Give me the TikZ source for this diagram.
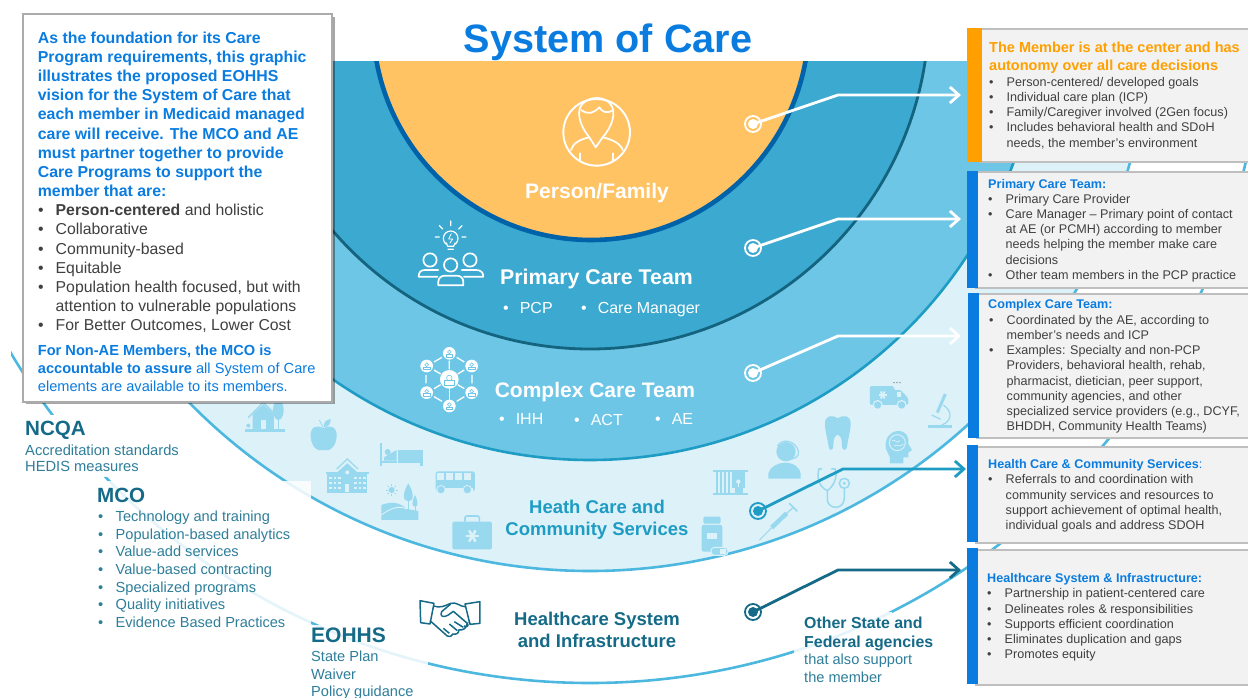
\documentclass[tikz,border=0pt]{standalone}
\usepackage{fontspec}
\setmainfont{Liberation Sans}
\usetikzlibrary{arrows.meta,shadows}
\definecolor{sysblue}{HTML}{0A7CE0}
\definecolor{ringO}{HTML}{FFC364}
\definecolor{edgeO}{HTML}{0062A8}
\definecolor{ringP}{HTML}{3BA9D0}
\definecolor{edgeP}{HTML}{14637F}
\definecolor{ringC}{HTML}{6EC6E6}
\definecolor{edgeC}{HTML}{1E9CC4}
\definecolor{ringL}{HTML}{DCF1F8}
\definecolor{edgeL}{HTML}{4DB8DF}
\definecolor{teal}{HTML}{156A87}
\definecolor{tealtxt}{HTML}{2E7E9A}
\definecolor{ic}{HTML}{99D9F0}
\definecolor{txt}{HTML}{404040}
\definecolor{orng}{HTML}{FFA000}
\newlength\bw \setlength\bw{17.5pt}
\newcommand\bu[1]{\makebox[\bw][l]{\textbullet}#1}
\newcommand\cn[1]{\hspace*{\bw}#1}
\newcommand\fs[2]{\fontsize{#1}{#2}\selectfont}
\tikzset{
 lbl/.style={inner sep=0pt,anchor=north west,align=left},
 ctr/.style={inner sep=0pt,align=center},
 barbox/.style={inner sep=0pt,anchor=north west,fill=sysblue},
 greybox/.style={inner sep=0pt,anchor=north west,draw=black!25,line width=2pt,fill=black!5},
 ring/.style={circle,inner sep=0pt,minimum size=16pt,line width=1.8pt,draw=#1},
 conn/.style={line width=2.8pt,draw=#1,line join=miter,-{Straight Barb[length=9pt,width=16pt,line width=2.8pt]}},
 icl/.style={draw=white,line width=1.7pt,line cap=round,line join=round,fill=none},
 icd/.style={draw=teal,line width=1.5pt,line join=round,fill=none},
}
\begin{document}
\begin{tikzpicture}[x=1pt,y=-1pt]
\useasboundingbox (0,0) rectangle (1248,698);
% concentric rings
\begin{scope}
\clip (11,62) rectangle (1248,698);
\draw[edgeL,line width=2.6pt] (590,10) circle[radius=673pt];
\draw[edgeL,line width=2.6pt,fill=ringL] (590,10) circle[radius=561pt];
\draw[edgeC,line width=2.6pt,fill=ringC] (590,10) circle[radius=450pt];
\draw[edgeP,line width=2.8pt,fill=ringP] (590,10) circle[radius=339pt];
\draw[edgeO,line width=4.6pt,fill=ringO] (591,22) circle[radius=218pt];
\end{scope}
% white panels lying over the rings
\fill[white] (25,415) rectangle (180,477);
\fill[white,opacity=.85] (97,481) rectangle (311,625);
\fill[white,opacity=.85] (311,625) rectangle (428,698);
\fill[white,opacity=.85] (794,612) rectangle (892,698);
% pale icons
\begin{scope}[shift={(230,395)},scale=.3333,ic]
 % house
 \fill (45,102) rectangle (165,110);
 \draw[line width=1.4pt] (55,68) -- (100,22) -- (145,68);
 \fill (68,58) -- (100,28) -- (132,58) -- (132,104) -- (68,104) -- cycle;
 \fill[ringL] (92,75) rectangle (108,102);
 \fill (145,45) ellipse[x radius=16,y radius=30];
 \draw[line width=1pt] (145,60) -- (145,104);
 \fill (55,92) circle[radius=6];
 % apple
 \fill (280,100) .. controls (260,88) and (240,95) .. (242,125) .. controls (244,155) and (262,172) .. (280,165) .. controls (298,172) and (318,155) .. (320,125) .. controls (322,95) and (300,88) .. (280,100) -- cycle;
 \fill (282,96) .. controls (280,85) and (285,75) .. (302,72) .. controls (302,88) and (295,96) .. (282,96) -- cycle;
 \draw[line width=.8pt] (280,98) -- (268,75);
 % bed
 \fill (449,145) rectangle (457,214);
 \fill (457,197) rectangle (500,205);
 \fill (473,171) circle[radius=9];
 \fill (462,187) -- (500,165) -- (500,197) -- (462,197) -- cycle;
 \fill (505,166) rectangle (578,205);
 \fill (570,205) rectangle (578,214);
 % school
 \fill (292,234) rectangle (412,295);
 \fill (322,232) -- (352,205) -- (382,232) -- cycle;
 \draw[line width=1.2pt] (320,222) -- (352,192) -- (384,222);
 \fill (288,230) rectangle (416,236);
 \foreach \xx in {300,314,328,375,389,403}{\foreach \yy in {245,260,275}{\fill[ringL] (\xx-3,\yy) rectangle (\xx+5,\yy+8);}}
 \fill[ringL] (345,268) rectangle (358,290);
 \fill[ringL] (352,232) circle[radius=6];
 % bus
 \fill[rounded corners=2.5pt] (617,229) rectangle (735,288);
 \foreach \xx in {622,649,676,703}{\fill[ringL] (\xx,235) rectangle (\xx+21,256);}
 \fill[ringL] (622,278) rectangle (730,288);
 \fill[ringL] (633,284) circle[radius=14]; \fill[ringL] (712,284) circle[radius=14];
 \fill (633,284) circle[radius=11]; \fill (712,284) circle[radius=11];
 % landscape
 \fill (454,375) -- (454,330) .. controls (480,320) and (510,320) .. (530,342) -- (565,348) -- (565,375) -- cycle;
 \draw[ringL,line width=.9pt] (454,360) .. controls (480,340) and (510,330) .. (530,342);
 \fill (535,265) .. controls (520,290) and (515,318) .. (535,318) .. controls (555,318) and (550,290) .. (535,265) -- cycle;
 \draw[line width=.9pt] (535,315) -- (535,345);
 \fill (555,300) .. controls (545,320) and (545,335) .. (555,335) .. controls (565,335) and (565,320) .. (555,300) -- cycle;
 \draw[line width=.8pt] (555,333) -- (555,348);
 \fill (485,285) circle[radius=9];
 \foreach \a in {0,45,...,315}{\draw[line width=.6pt] (485,285) ++(\a:12) -- ++(\a:6);}
 % first aid kit
 \fill[rounded corners=1.5pt] (667,380) rectangle (786,463);
 \draw[line width=1.6pt,rounded corners=2pt] (705,380) -- (705,363) -- (748,363) -- (748,380);
 \foreach \a in {0,60,120}{\draw[ringL,line width=2.6pt,line cap=round] (727,423) ++(\a:17) -- ++(\a+180:34);}
\end{scope}
\begin{scope}[shift={(690,370)},scale=.3333,ic]
 % ambulance
 \fill[rounded corners=1.5pt] (540,48) -- (612,48) -- (612,60) -- (632,60) -- (655,85) -- (655,105) -- (540,105) -- cycle;
 \foreach \a in {0,60,120}{\draw[ringL,line width=1.8pt] (578,75) ++(\a:12) -- ++(\a+180:24);}
 \fill[ringL] (620,66) rectangle (634,80);
 \fill[ringL] (563,105) circle[radius=15]; \fill[ringL] (635,105) circle[radius=15];
 \fill (563,105) circle[radius=11]; \fill (635,105) circle[radius=11];
 \foreach \a in {612,621,630}{\fill[black!45] (\a,38) circle[radius=2.4];}
 % microscope
 \fill (714,165) rectangle (786,173);
 \draw[line width=3pt] (742,128) -- (766,72);
 \draw[line width=1.2pt] (725,135) -- (752,148);
 \draw[line width=1.2pt] (760,105) .. controls (790,125) and (785,155) .. (755,165);
 \fill[ringL] (757,116) circle[radius=5];
 % tooth
 \fill (443,145) .. controls (425,132) and (405,138) .. (405,160) .. controls (405,185) and (412,200) .. (415,225) .. controls (417,245) and (430,245) .. (430,225) .. controls (430,205) and (436,195) .. (443,195) .. controls (450,195) and (456,205) .. (456,225) .. controls (456,245) and (470,245) .. (472,225) .. controls (475,200) and (482,185) .. (482,160) .. controls (482,138) and (462,132) .. (443,145) -- cycle;
 % brain head
 \fill (625,183) .. controls (600,183) and (585,205) .. (587,230) .. controls (588,245) and (597,250) .. (600,262) -- (600,280) -- (640,280) -- (640,262) -- (655,262) -- (655,248) -- (666,240) -- (655,222) .. controls (658,200) and (648,183) .. (625,183) -- cycle;
 \draw[ringL,line width=.9pt] (622,218) circle[radius=24];
 \draw[ringL,line width=.7pt] (606,212) .. controls (615,205) and (620,225) .. (630,212) (612,228) .. controls (620,220) and (630,235) .. (640,222);
 % headset person
 \fill (235,326) -- (235,310) .. controls (240,290) and (265,278) .. (285,278) .. controls (310,278) and (330,292) .. (332,310) -- (332,326) -- cycle;
 \fill (288,245) circle[radius=29];
 \draw[line width=1.1pt] (262,228) .. controls (275,205) and (315,208) .. (326,245) .. controls (328,262) and (310,268) .. (295,268);
 % bars
 \fill (70,301) rectangle (175,307); \fill (70,370) rectangle (175,376);
 \foreach \xx in {78,90,102,114}{\fill (\xx,307) rectangle (\xx+6,370);}
 \fill (126,307) rectangle (165,370);
 \fill[ringL] (145,335) circle[radius=6.5];
 \fill[ringL] (143,338) rectangle (147,352);
 \foreach \xx in {126,158}{\fill[ringL] (\xx,355) rectangle (\xx+8,370);}
 % stethoscope
 \draw[line width=1.5pt,line cap=round] (395,297) -- (387,297) .. controls (380,320) and (385,350) .. (412,362) .. controls (430,350) and (445,320) .. (435,297) -- (425,297);
 \draw[line width=1.5pt] (412,362) -- (412,390) .. controls (415,420) and (462,420) .. (463,385) -- (463,355);
 \draw[line width=1.5pt] (463,340) circle[radius=15];
 \fill (463,340) circle[radius=5];
 % syringe
 \draw[line width=.9pt] (208,511) -- (245,473);
 \draw[line width=4.5pt] (245,473) -- (290,430);
 \draw[line width=1.2pt] (290,430) -- (310,412);
 \draw[line width=1.6pt] (298,400) -- (322,424);
 \draw[ringL,line width=.7pt] (262,470) -- (270,462) (274,458) -- (282,450);
 % bottle
 \fill[rounded corners=1.5pt] (40,440) rectangle (92,461);
 \fill[rounded corners=2pt] (35,465) rectangle (97,545);
 \fill[ringL] (50,488) rectangle (82,508);
 \draw[ringL,fill=ic,line width=1pt,rounded corners=3.5pt] (63,532) rectangle (114,556);
 \fill[ringL] (90,536) rectangle (108,552);
\end{scope}
% Person/Family icon
\begin{scope}[shift={(550,90)},scale=.3333]
 \draw[icl,line width=1.9pt] (140,127) circle[radius=100];
 \draw[icl] (118,142) .. controls (84,100) and (80,60) .. (97,42) .. controls (122,15) and (168,20) .. (183,45) .. controls (198,65) and (190,105) .. (158,142);
 \draw[icl] (93,60) .. controls (115,75) and (130,70) .. (148,52) .. controls (155,65) and (170,72) .. (187,62);
 \draw[icl] (63,180) .. controls (68,160) and (90,148) .. (118,142) -- (137,172) -- (158,142) .. controls (185,148) and (212,160) .. (218,180);
 \draw[icl] (90,190) -- (90,212) (190,190) -- (190,212);
\end{scope}
% primary team icon
\begin{scope}[shift={(410,215)},scale=.3333]
 \draw[icl,line width=1.2pt] (122,70) circle[radius=22];
 \fill[ringP] (108,88) rectangle (136,100);
 \draw[icl,line width=1.2pt] (109,84) -- (113,94) -- (131,94) -- (135,84) (114,103) -- (130,103);
 \draw[icl,line width=.8pt] (124,56) -- (116,72) -- (128,72) -- (120,84);
 \draw[icl,line width=1.2pt] (122,18) -- (122,32) (88,32) -- (98,42) (156,32) -- (146,42) (76,66) -- (88,66) (156,66) -- (168,66);
 \draw[icl] (60,135) circle[radius=20] (122,150) circle[radius=20] (180,135) circle[radius=20];
 \draw[icl] (85,165) -- (45,165) .. controls (32,165) and (26,172) .. (26,185) -- (82,185);
 \draw[icl] (155,165) -- (198,165) .. controls (212,165) and (220,172) .. (220,185) -- (162,185);
 \draw[icl] (85,211) -- (85,200) .. controls (85,188) and (95,182) .. (105,182) -- (140,182) .. controls (150,182) and (160,188) .. (160,200) -- (160,211) -- cycle;
\end{scope}
% complex team icon
\begin{scope}[shift={(410,340)},scale=.3333]
 \draw[icl,line width=1.3pt,line cap=butt]
   (72,66)--(96,52) (140,52)--(163,66) (48,105)--(48,130) (186,105)--(186,130)
   (72,170)--(96,184) (140,184)--(163,170) (118,62)--(118,88)
   (72,90)--(92,102) (163,90)--(143,102) (72,146)--(92,134) (163,146)--(143,134);
 \draw[icl,line width=1.3pt,line cap=butt] (118,145)--(118,180);
 \foreach \cx/\cy/\rr in {118/118/28,118/40/19,50/78/19,185/78/19,50/158/19,185/158/19,118/198/19}{
   \fill[white] (\cx,\cy) circle[radius=\rr];
   \draw[ringC,line width=.6pt] (\cx,\cy-4) circle[radius=.3*\rr];
   \draw[ringC,line width=.6pt] (\cx-.5*\rr,\cy+.6*\rr) rectangle (\cx+.5*\rr,\cy+.15*\rr);
 }
\end{scope}
% handshake icon
\begin{scope}[shift={(410,590)},scale=.3333]
 \draw[icd] (30,32) -- (72,40) -- (60,102) -- (32,98) -- cycle;
 \draw[icd] (165,42) -- (210,35) -- (210,100) -- (180,103) -- cycle;
 \draw[icd] (70,48) .. controls (90,55) and (105,48) .. (122,40) .. controls (140,35) and (150,50) .. (165,50);
 \draw[icd] (122,42) -- (95,65) .. controls (88,78) and (100,85) .. (115,75) -- (130,64) -- (172,100) .. controls (178,108) and (170,112) .. (162,108);
 \draw[icd] (60,92) -- (105,132) .. controls (112,142) and (125,142) .. (128,132) .. controls (140,135) and (148,128) .. (146,120) .. controls (158,122) and (170,115) .. (172,100);
 \draw[icd] (100,115) -- (118,130) (118,102) -- (142,122) (133,95) -- (160,112);
 \draw[icd] (176,98) -- (180,96);
\end{scope}
% title
\node[ctr,font=\bfseries\fs{39.6}{44},text=sysblue] (title) at (608,42) {System of Care};
% left panel
\node[inner sep=0pt,anchor=north west,minimum width=309pt,minimum height=387pt,draw=black!33,line width=2pt,fill=white,drop shadow={shadow xshift=2.5pt,shadow yshift=-2.5pt,opacity=.35,fill=black}] (panel) at (22,13.5) {};
\node[lbl,text=sysblue,font=\bfseries\fs{15.85}{19.2}] (intro) at (37.7,31.5) {As the foundation for its Care\\Program requirements, this graphic\\illustrates the proposed EOHHS\\vision for the System of Care that\\each member in Medicaid managed\\care will receive. The MCO and AE\\must partner together to provide\\Care Programs to support the\\member that are:};
\node[lbl,text=txt,font=\fs{15.8}{19.2}] (traits) at (38,204) {\bu{\textbf{Person-centered} and holistic}\\\bu{Collaborative}\\\bu{Community-based}\\\bu{Equitable}\\\bu{Population health focused, but with}\\\cn{attention to vulnerable populations}\\\bu{For Better Outcomes, Lower Cost}};
\node[lbl,text=sysblue,font=\fs{14.6}{18}] (nonae) at (37.7,345) {\textbf{For Non-AE Members, the MCO is}\\\textbf{accountable to assure} all System of Care\\elements are available to its members.};
% centre labels
\node[ctr,text=white,font=\bfseries\fs{21}{24}] (lpf) at (597,193.5) {Person/Family};
\node[ctr,text=white,font=\bfseries\fs{21.3}{26}] (lpc) at (596.5,279) {Primary Care Team};
\node[lbl,text=white,font=\fs{16}{18}] (lpc1) at (503,302.5) {\textbullet\hspace{11pt}PCP};
\node[lbl,text=white,font=\fs{16}{18}] (lpc2) at (581,302.5) {\textbullet\hspace{11pt}Care Manager};
\node[ctr,text=white,font=\bfseries\fs{21}{26}] (lcc) at (595,392) {Complex Care Team};
\node[lbl,text=white,font=\fs{16}{18}] (lcc1) at (499,413.5) {\textbullet\hspace{11pt}IHH};
\node[lbl,text=white,font=\fs{16}{18}] (lcc2) at (574,414.5) {\textbullet\hspace{11pt}ACT};
\node[lbl,text=white,font=\fs{16}{18}] (lcc3) at (655,413.5) {\textbullet\hspace{11pt}AE};
\node[ctr,text=edgeC,font=\bfseries\fs{18.5}{22}] (lhc) at (597,520) {Heath Care and\\Community Services};
\node[ctr,text=teal,font=\bfseries\fs{18.5}{22}] (lhs) at (597,629.5) {Healthcare System\\and Infrastructure};
% outer labels
\node[lbl,text=teal,font=\bfseries\fs{20.6}{22}] (ncqa) at (25,420.5) {NCQA};
\node[lbl,text=tealtxt,font=\fs{14.7}{16.5}] (ncqat) at (25,444.5) {Accreditation standards\\HEDIS measures};
\node[lbl,text=teal,font=\bfseries\fs{20.6}{22}] (mco) at (97,487.5) {MCO};
\node[lbl,text=tealtxt,font=\fs{14.6}{17.6}] (mcot) at (98,511) {\bu{Technology and training}\\\bu{Population-based analytics}\\\bu{Value-add services}\\\bu{Value-based contracting}\\\bu{Specialized programs}\\\bu{Quality initiatives}\\\bu{Evidence Based Practices}};
\node[lbl,text=teal,font=\bfseries\fs{21}{22}] (eo) at (311,628) {EOHHS};
\node[lbl,text=tealtxt,font=\fs{14.6}{17.3}] (eot) at (311,651) {State Plan\\Waiver\\Policy guidance};
\node[lbl,text=teal,font=\bfseries\fs{15.9}{19}] (oth) at (804,616.5) {Other State and\\Federal agencies};
\node[lbl,text=tealtxt,font=\fs{14.6}{18}] (otht) at (804,654) {that also support\\the member};
% right boxes
\node[greybox,minimum width=272pt,minimum height=133pt] (b1) at (980,28.5) {};
\node[barbox,fill=orng,minimum width=15pt,minimum height=134pt] (b1bar) at (967,28) {};
\node[greybox,minimum width=277pt,minimum height=116pt] (b2) at (975,171) {};
\node[barbox,minimum width=10.5pt,minimum height=117pt] (b2bar) at (967,170.5) {};
\node[greybox,minimum width=277pt,minimum height=144pt] (b3) at (976,293) {};
\node[barbox,minimum width=10.5pt,minimum height=145pt] (b3bar) at (968,293) {};
\node[greybox,minimum width=277pt,minimum height=96.5pt] (b4) at (975,445.5) {};
\node[barbox,minimum width=10.5pt,minimum height=97pt] (b4bar) at (967,445) {};
\node[greybox,minimum width=277pt,minimum height=135pt] (b5) at (975,548.5) {};
\node[barbox,minimum width=10.5pt,minimum height=136pt] (b5bar) at (967,548) {};
\node[lbl,text=orng,font=\bfseries\fs{14.5}{18}] (t1h) at (989,41.5) {The Member is at the center and has\\autonomy over all care decisions};
\node[lbl,text=txt,font=\fs{12.6}{15.2}] (t1) at (989,77) {\bu{Person-centered/ developed goals}\\\bu{Individual care plan (ICP)}\\\bu{Family/Caregiver involved (2Gen focus)}\\\bu{Includes behavioral health and SDoH}\\\cn{needs, the member's environment}};
\node[lbl,text=sysblue,font=\bfseries\fs{12.6}{15}] (t2h) at (988,179) {Primary Care Team:};
\node[lbl,text=txt,font=\fs{12.6}{15.2}] (t2) at (988,194) {\bu{Primary Care Provider}\\\bu{Care Manager – Primary point of contact}\\\cn{at AE (or PCMH) according to member}\\\cn{needs helping the member make care}\\\cn{decisions}\\\bu{Other team members in the PCP practice}};
\node[lbl,text=sysblue,font=\bfseries\fs{12.6}{15}] (t3h) at (988,299) {Complex Care Team:};
\node[lbl,text=txt,font=\fs{12.6}{15.2}] (t3) at (989,315) {\bu{Coordinated by the AE, according to}\\\cn{member's needs and ICP}\\\bu{Examples: Specialty and non-PCP}\\\cn{Providers, behavioral health, rehab,}\\\cn{pharmacist, dietician, peer support,}\\\cn{community agencies, and other}\\\cn{specialized service providers (e.g., DCYF,}\\\cn{BHDDH, Community Health Teams)}};
\node[lbl,text=sysblue,font=\bfseries\fs{12.6}{15}] (t4h) at (988,459) {Health Care \& Community Services\textmd{:}};
\node[lbl,text=txt,font=\fs{12.6}{15.2}] (t4) at (988,474.5) {\bu{Referrals to and coordination with}\\\cn{community services and resources to}\\\cn{support achievement of optimal health,}\\\cn{individual goals and address SDOH}};
\node[lbl,text=sysblue,font=\bfseries\fs{12.6}{15}] (t5h) at (987,573) {Healthcare System \& Infrastructure:};
\node[lbl,text=txt,font=\fs{12.6}{15.2}] (t5) at (987,588.5) {\bu{Partnership in patient-centered care}\\\bu{Delineates roles \& responsibilities}\\\bu{Supports efficient coordination}\\\bu{Eliminates duplication and gaps}\\\bu{Promotes equity}};
% connectors
\node[ring=white] (m1) at (753,124) {};
\node[ring=white] (m2) at (753,248) {};
\node[ring=white] (m3) at (753,373) {};
\node[ring=edgeC] (m4) at (758,511) {};
\node[ring=teal] (m5) at (753,612) {};
\coordinate (k1) at (838,95); \coordinate (e1) at (961,95);
\coordinate (k2) at (838,219); \coordinate (e2) at (961,219);
\coordinate (k3) at (838,336); \coordinate (e3) at (961,336);
\coordinate (k4) at (843,469); \coordinate (e4) at (966,469);
\coordinate (k5) at (838,570); \coordinate (e5) at (961,570);
\draw[conn=white] (m1.center) -- (k1) -- (e1);
\draw[conn=white] (m2.center) -- (k2) -- (e2);
\draw[conn=white] (m3.center) -- (k3) -- (e3);
\draw[conn=edgeC] (m4.center) -- (k4) -- (e4);
\draw[conn=teal] (m5.center) -- (k5) -- (e5);
\fill[white] (m1) circle[radius=5pt] (m2) circle[radius=5pt] (m3) circle[radius=5pt];
\fill[edgeC] (m4) circle[radius=5pt];
\fill[teal] (m5) circle[radius=5pt];
\end{tikzpicture}
\end{document}
